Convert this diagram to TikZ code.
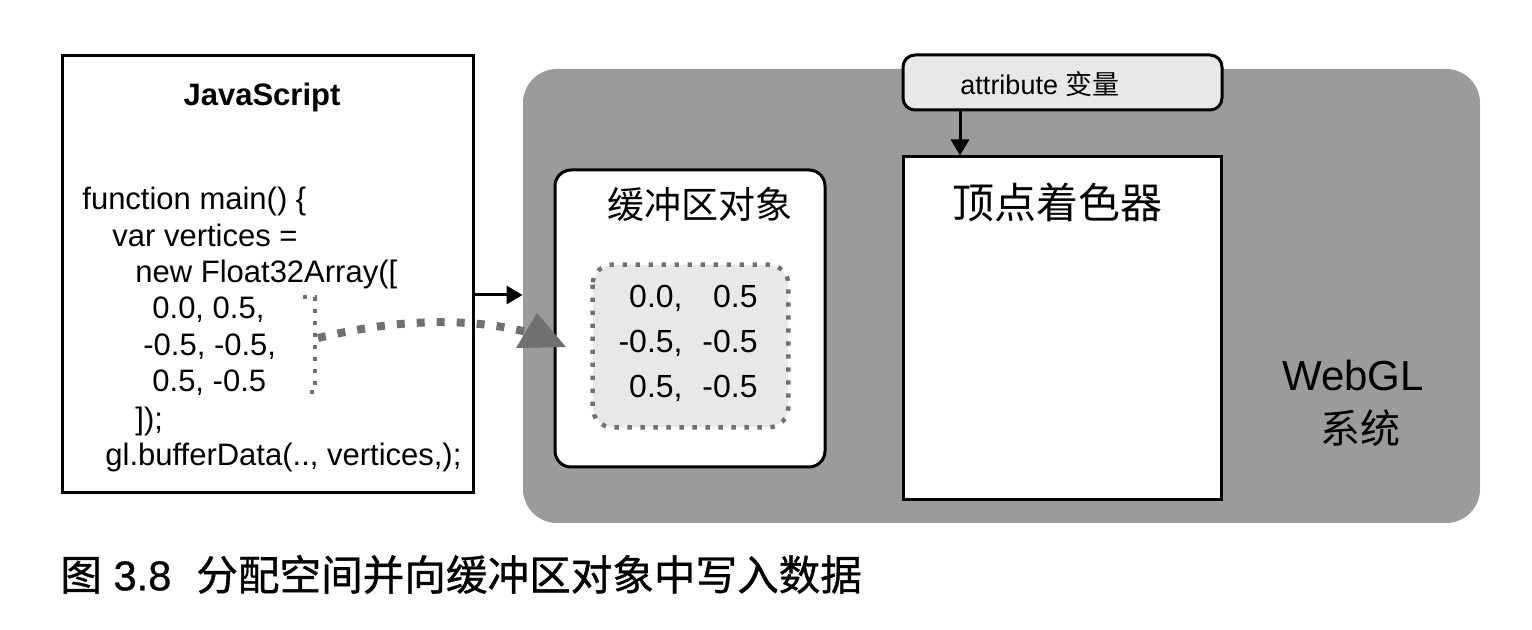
\documentclass[tikz,border=0pt]{standalone}
\usepackage{fontspec}
\setmainfont{Liberation Sans}
\newfontfamily\cjk{Noto Sans CJK SC}
\newfontfamily\cjkcap[FakeBold=0.8]{Noto Sans CJK SC}
\newfontfamily\latcap[FakeBold=0.8]{Liberation Sans}
\usetikzlibrary{arrows.meta}
\definecolor{sysgray}{RGB}{155,155,155}
\definecolor{dotgray}{RGB}{112,112,112}
\definecolor{innergray}{RGB}{232,232,232}
\definecolor{attrgray}{RGB}{232,232,232}
\begin{document}
\begin{tikzpicture}[x=0.5pt,y=-0.5pt,
  box/.style={draw=black,line width=1.5pt,inner sep=0pt},
  code/.style={anchor=mid west,inner sep=0pt,font=\fontsize{15.5}{18}\selectfont},
  num/.style={anchor=mid east,inner sep=0pt,font=\fontsize{16}{19}\selectfont},
  bigdots/.style={draw=dotgray,line width=4pt,dash pattern=on 4pt off 6pt},
  smalldots/.style={draw=dotgray,line width=1.8pt,dash pattern=on 1.8pt off 4.2pt},
  blackarrow/.style={line width=1.5pt,-{Triangle[length=8pt,width=9pt]}}
]
\useasboundingbox (0,0) rectangle (1532,630);
\fill[white] (0,0) rectangle (1532,630);

% JavaScript box
\node[box,fill=white,minimum width=205.5pt,minimum height=218.5pt] (js) at (267.5,274.5) {};
\node[inner sep=0pt,font=\bfseries\fontsize{15.5}{18}\selectfont] (jst) at (262,97) {JavaScript};
\node[code] (c1) at (82,204) {function main() \{};
\node[code] (c2) at (112,241) {var vertices =};
\node[code] (c3) at (135,277) {new Float32Array([};
\node[code] (c4) at (152,313) {0.0, 0.5,};
\node[code] (c5) at (143,350) {-0.5, -0.5,};
\node[code] (c6) at (152,386) {0.5, -0.5};
\node[code] (c7) at (135,424) {]);};
\node[code] (c8) at (105,460) {gl.bufferData(.., vertices,);};

% WebGL system
\node[fill=sysgray,rounded corners=17pt,minimum width=478.5pt,minimum height=227pt,inner sep=0pt] (webgl) at (1001.5,296) {};
\node[inner sep=0pt,font=\fontsize{21}{24}\selectfont] (wgl) at (1353,375) {WebGL};
\node[inner sep=0pt,font=\cjk\fontsize{20}{23}\selectfont] (sys) at (1360,428) {系统};

% attribute variable
\node[box,fill=attrgray,rounded corners=6pt,minimum width=159.5pt,minimum height=27.5pt] (attr) at (1062.5,82.5) {};
\node[inner sep=0pt,font=\fontsize{13.5}{16}\selectfont] (attrt) at (1040,84) {attribute {\cjk 变量}};

% vertex shader
\node[box,fill=white,minimum width=159pt,minimum height=171.5pt] (vs) at (1062,328.5) {};
\node[inner sep=0pt,font=\cjk\fontsize{21}{24}\selectfont] (vst) at (1057,202) {顶点着色器};

\coordinate (ax) at (960,0);
\draw[blackarrow] (attr.south -| ax) -- (vs.north -| ax);

% buffer object
\node[box,fill=white,rounded corners=8pt,minimum width=135pt,minimum height=148.5pt] (buf) at (690,318.5) {};
\node[inner sep=0pt,font=\cjk\fontsize{18.5}{22}\selectfont] (buft) at (700,204) {缓冲区对象};
\node[fill=innergray,rounded corners=10pt,minimum width=97.5pt,minimum height=81pt,inner sep=0pt] (inner) at (690.5,346) {};
\draw[draw=dotgray,line width=2.2pt,dash pattern=on 2.2pt off 4.3pt,rounded corners=10pt]
  (inner.north west) rectangle (inner.south east);
\node[num] (n11) at (683,302) {0.0,};
\node[num] (n12) at (758,302) {0.5};
\node[num] (n21) at (683,347) {-0.5,};
\node[num] (n22) at (758,347) {-0.5};
\node[num] (n31) at (683,392) {0.5,};
\node[num] (n32) at (758,392) {-0.5};

% arrow JS -> WebGL
\coordinate (a1) at (473,295);
\draw[blackarrow] (a1) -- (a1 -| webgl.west);

% dotted bracket
\coordinate (bt) at (315,297);
\coordinate (bb) at (315,392);
\coordinate (bm) at (318,338);
\draw[smalldots] (303,297) -- (bt) -- (bb) -- (303,392);

% dotted curved arrow
\coordinate (ct) at (527,332);
\draw[bigdots] (bm) .. controls (400,318) and (470,318) .. (ct);
\fill[dotgray] (537,313) -- (566,347) -- (516,348) -- cycle;

% caption
\node[anchor=mid west,inner sep=0pt,font=\fontsize{20.8}{24}\selectfont] (cap) at (60,585)
  {{\cjkcap 图} {\latcap 3.8}\hspace{0.6em}{\cjkcap 分配空间并向缓冲区对象中写入数据}};
\end{tikzpicture}
\end{document}
